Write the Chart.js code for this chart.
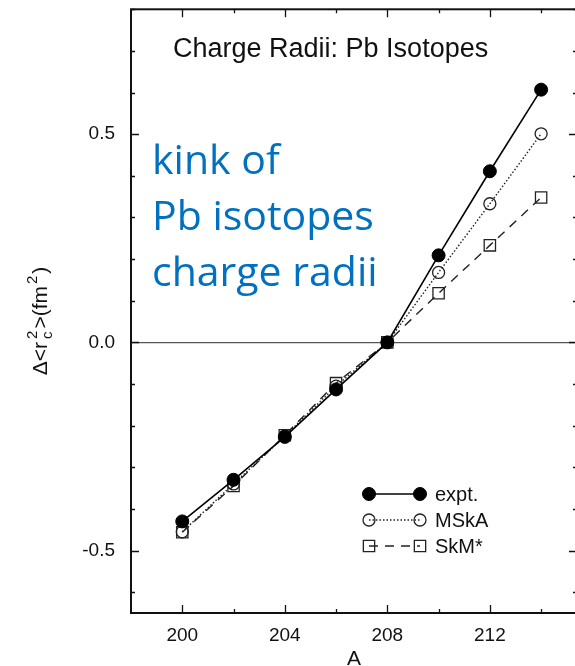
<!DOCTYPE html>
<html>
<head>
<meta charset="utf-8">
<script src="https://cdn.jsdelivr.net/npm/chart.js@4.4.1/dist/chart.umd.min.js"></script>
<style>
  html, body { margin: 0; padding: 0; background: #fff; overflow: hidden; }
  #wrap { width: 575px; height: 666px; overflow: hidden; }
</style>
</head>
<body>
<div id="wrap"><canvas id="radiiChart" width="600" height="666"></canvas></div>
<script>
// mass number A and the change of the mean square charge radius (fm^2)
const massNumbers = [200, 202, 204, 206, 208, 210, 212, 214];
const exptValues = [-0.430, -0.330, -0.227, -0.113, 0.0, 0.209, 0.411, 0.607];
const mskaValues = [-0.455, -0.340, -0.225, -0.105, 0.0, 0.168, 0.333, 0.501];
const skmValues = [-0.456, -0.345, -0.223, -0.098, 0.0, 0.118, 0.233, 0.348];

const xTickLabels = [200, 204, 208, 212];
const xMinorTicks = [200, 202, 204, 206, 208, 210, 212, 214];
const yTickLabels = [-0.5, 0.0, 0.5];
const yMinorTicks = [-0.6, -0.5, -0.4, -0.3, -0.2, -0.1, 0.0, 0.1, 0.2, 0.3, 0.4, 0.5, 0.6, 0.7, 0.8];

const seriesNames = ['expt.', 'MSkA', 'SkM*'];
const noteLines = ['kink of', 'Pb isotopes', 'charge radii'];
const plotTitle = 'Charge Radii: Pb Isotopes';

const FONT = "'Liberation Sans', Arial, sans-serif";

function toPoints(vals) {
    return massNumbers.map((a, i) => ({ x: a, y: vals[i] }));
}

const datasets = [
    {
        label: seriesNames[0], data: toPoints(exptValues),
        borderColor: '#000', borderWidth: 1.6,
        pointStyle: 'circle', pointRadius: 6.5,
        pointBackgroundColor: '#000', pointBorderColor: '#000', pointBorderWidth: 1
    },
    {
        label: seriesNames[1], data: toPoints(mskaValues),
        borderColor: '#222', borderWidth: 1.4, borderDash: [1.5, 2],
        pointStyle: 'circle', pointRadius: 6,
        pointBackgroundColor: 'rgba(255,255,255,0)', pointBorderColor: '#222', pointBorderWidth: 1.3
    },
    {
        label: seriesNames[2], data: toPoints(skmValues),
        borderColor: '#222', borderWidth: 1.4, borderDash: [9, 7],
        pointStyle: 'rect', pointRadius: 8,
        pointBackgroundColor: 'rgba(255,255,255,0)', pointBorderColor: '#222', pointBorderWidth: 1.3
    }
];

// frame, inward ticks, titles, legend and the blue note
const decorations = {
    id: 'decorations',
    afterDraw(chart) {
        const ctx = chart.ctx;
        const a = chart.chartArea;
        const xs = chart.scales.x, ys = chart.scales.y;
        ctx.save();

        ctx.strokeStyle = '#111';
        ctx.lineWidth = 2;
        ctx.strokeRect(a.left, a.top, a.right - a.left, a.bottom - a.top);

        ctx.lineWidth = 1.3;
        ctx.beginPath();
        xMinorTicks.forEach(v => {
            const px = Math.round(xs.getPixelForValue(v)) + 0.5;
            const len = xTickLabels.includes(v) ? 8 : 4;
            ctx.moveTo(px, a.bottom); ctx.lineTo(px, a.bottom - len);
            ctx.moveTo(px, a.top); ctx.lineTo(px, a.top + len);
        });
        yMinorTicks.forEach(v => {
            const py = Math.round(ys.getPixelForValue(v)) + 0.5;
            const len = yTickLabels.some(t => Math.abs(t - v) < 1e-6) ? 8 : 4;
            ctx.moveTo(a.left, py); ctx.lineTo(a.left + len, py);
            ctx.moveTo(a.right, py); ctx.lineTo(a.right - len, py);
        });
        ctx.stroke();

        // title inside the plot
        ctx.fillStyle = '#111';
        ctx.font = '27px ' + FONT;
        ctx.textAlign = 'left';
        ctx.textBaseline = 'alphabetic';
        ctx.fillText(plotTitle, 173, 57);

        // y axis title with sub/superscripts
        ctx.save();
        ctx.translate(47, 321);
        ctx.rotate(-Math.PI / 2);
        const big = '21px ' + FONT, small = '15px ' + FONT;
        const parts = [
            { t: '\u0394<r', f: big, dy: 0 },
            { t: 'c', f: small, dy: 5, stackWith: '2', gap: 3 },
            { t: '>(fm', f: big, dy: 0 },
            { t: '2', f: small, dy: -10, gap: 2 },
            { t: ')', f: big, dy: 0 }
        ];
        let total = 0;
        parts.forEach(p => { ctx.font = p.f; p.w = ctx.measureText(p.t).width + 2 * (p.gap || 0); total += p.w; });
        let cx = -total / 2;
        parts.forEach(p => {
            ctx.font = p.f;
            const g = p.gap || 0;
            ctx.fillText(p.t, cx + g, p.dy);
            if (p.stackWith) ctx.fillText(p.stackWith, cx + g, -10);
            cx += p.w;
        });
        ctx.restore();

        // legend
        ctx.font = '20px ' + FONT;
        ctx.textBaseline = 'middle';
        chart.data.datasets.forEach((ds, i) => {
            const y = 494 + i * 26;
            ctx.save();
            ctx.strokeStyle = ds.borderColor;
            ctx.lineWidth = ds.borderWidth;
            ctx.setLineDash(ds.borderDash || []);
            ctx.beginPath(); ctx.moveTo(369, y); ctx.lineTo(420, y); ctx.stroke();
            ctx.setLineDash([]);
            [369, 420].forEach(x => {
                ctx.fillStyle = ds.pointBackgroundColor;
                ctx.strokeStyle = ds.pointBorderColor;
                ctx.lineWidth = ds.pointBorderWidth;
                ctx.beginPath();
                if (ds.pointStyle === 'rect') {
                    const r = ds.pointRadius * Math.SQRT1_2;
                    ctx.rect(x - r, y - r, 2 * r, 2 * r);
                } else {
                    ctx.arc(x, y, ds.pointRadius, 0, Math.PI * 2);
                }
                ctx.fill(); ctx.stroke();
            });
            ctx.restore();
            ctx.fillStyle = '#111';
            ctx.fillText(ds.label, 435, y + 1);
        });

        // blue note
        ctx.fillStyle = '#0070C0';
        ctx.font = "41px 'Open Sans', 'Noto Sans', sans-serif";
        ctx.textBaseline = 'alphabetic';
        noteLines.forEach((line, i) => ctx.fillText(line, 152, 174 + i * 56));

        ctx.restore();
    }
};

document.addEventListener("DOMContentLoaded", function() {
    const ctx = document.getElementById('radiiChart').getContext('2d');
    new Chart(ctx, {
        type: 'line',
        data: { datasets: datasets },
        plugins: [decorations],
        options: {
            responsive: false,
            animation: false,
            layout: { padding: { top: 9, right: 23, left: 0, bottom: 0 } },
            plugins: { legend: { display: false }, tooltip: { enabled: false } },
            scales: {
                x: {
                    type: 'linear', min: 198, max: 215.4,
                    border: { display: false },
                    grid: { display: false, drawTicks: false },
                    ticks: { color: '#111', font: { family: FONT, size: 19 }, padding: 11 },
                    afterBuildTicks: s => { s.ticks = xTickLabels.map(v => ({ value: v })); },
                    afterFit: s => { s.height = 53; s.paddingLeft = 0; s.paddingRight = 0; },
                    title: { display: true, text: 'A', color: '#111', font: { family: FONT, size: 21, lineHeight: 0.6 }, padding: { top: 0, bottom: 0 } }
                },
                y: {
                    type: 'linear', min: -0.65, max: 0.8,
                    border: { display: false },
                    grid: {
                        drawTicks: false,
                        color: c => (c.tick && c.tick.value === 0 ? '#555' : 'rgba(0,0,0,0)'),
                        lineWidth: 1.2
                    },
                    ticks: {
                        color: '#111', font: { family: FONT, size: 19 }, padding: 16,
                        callback: v => v.toFixed(1)
                    },
                    afterBuildTicks: s => { s.ticks = yTickLabels.map(v => ({ value: v })); },
                    afterFit: s => { s.width = 131; s.paddingTop = 0; s.paddingBottom = 0; }
                }
            }
        }
    });
});
</script>
</body>
</html>
